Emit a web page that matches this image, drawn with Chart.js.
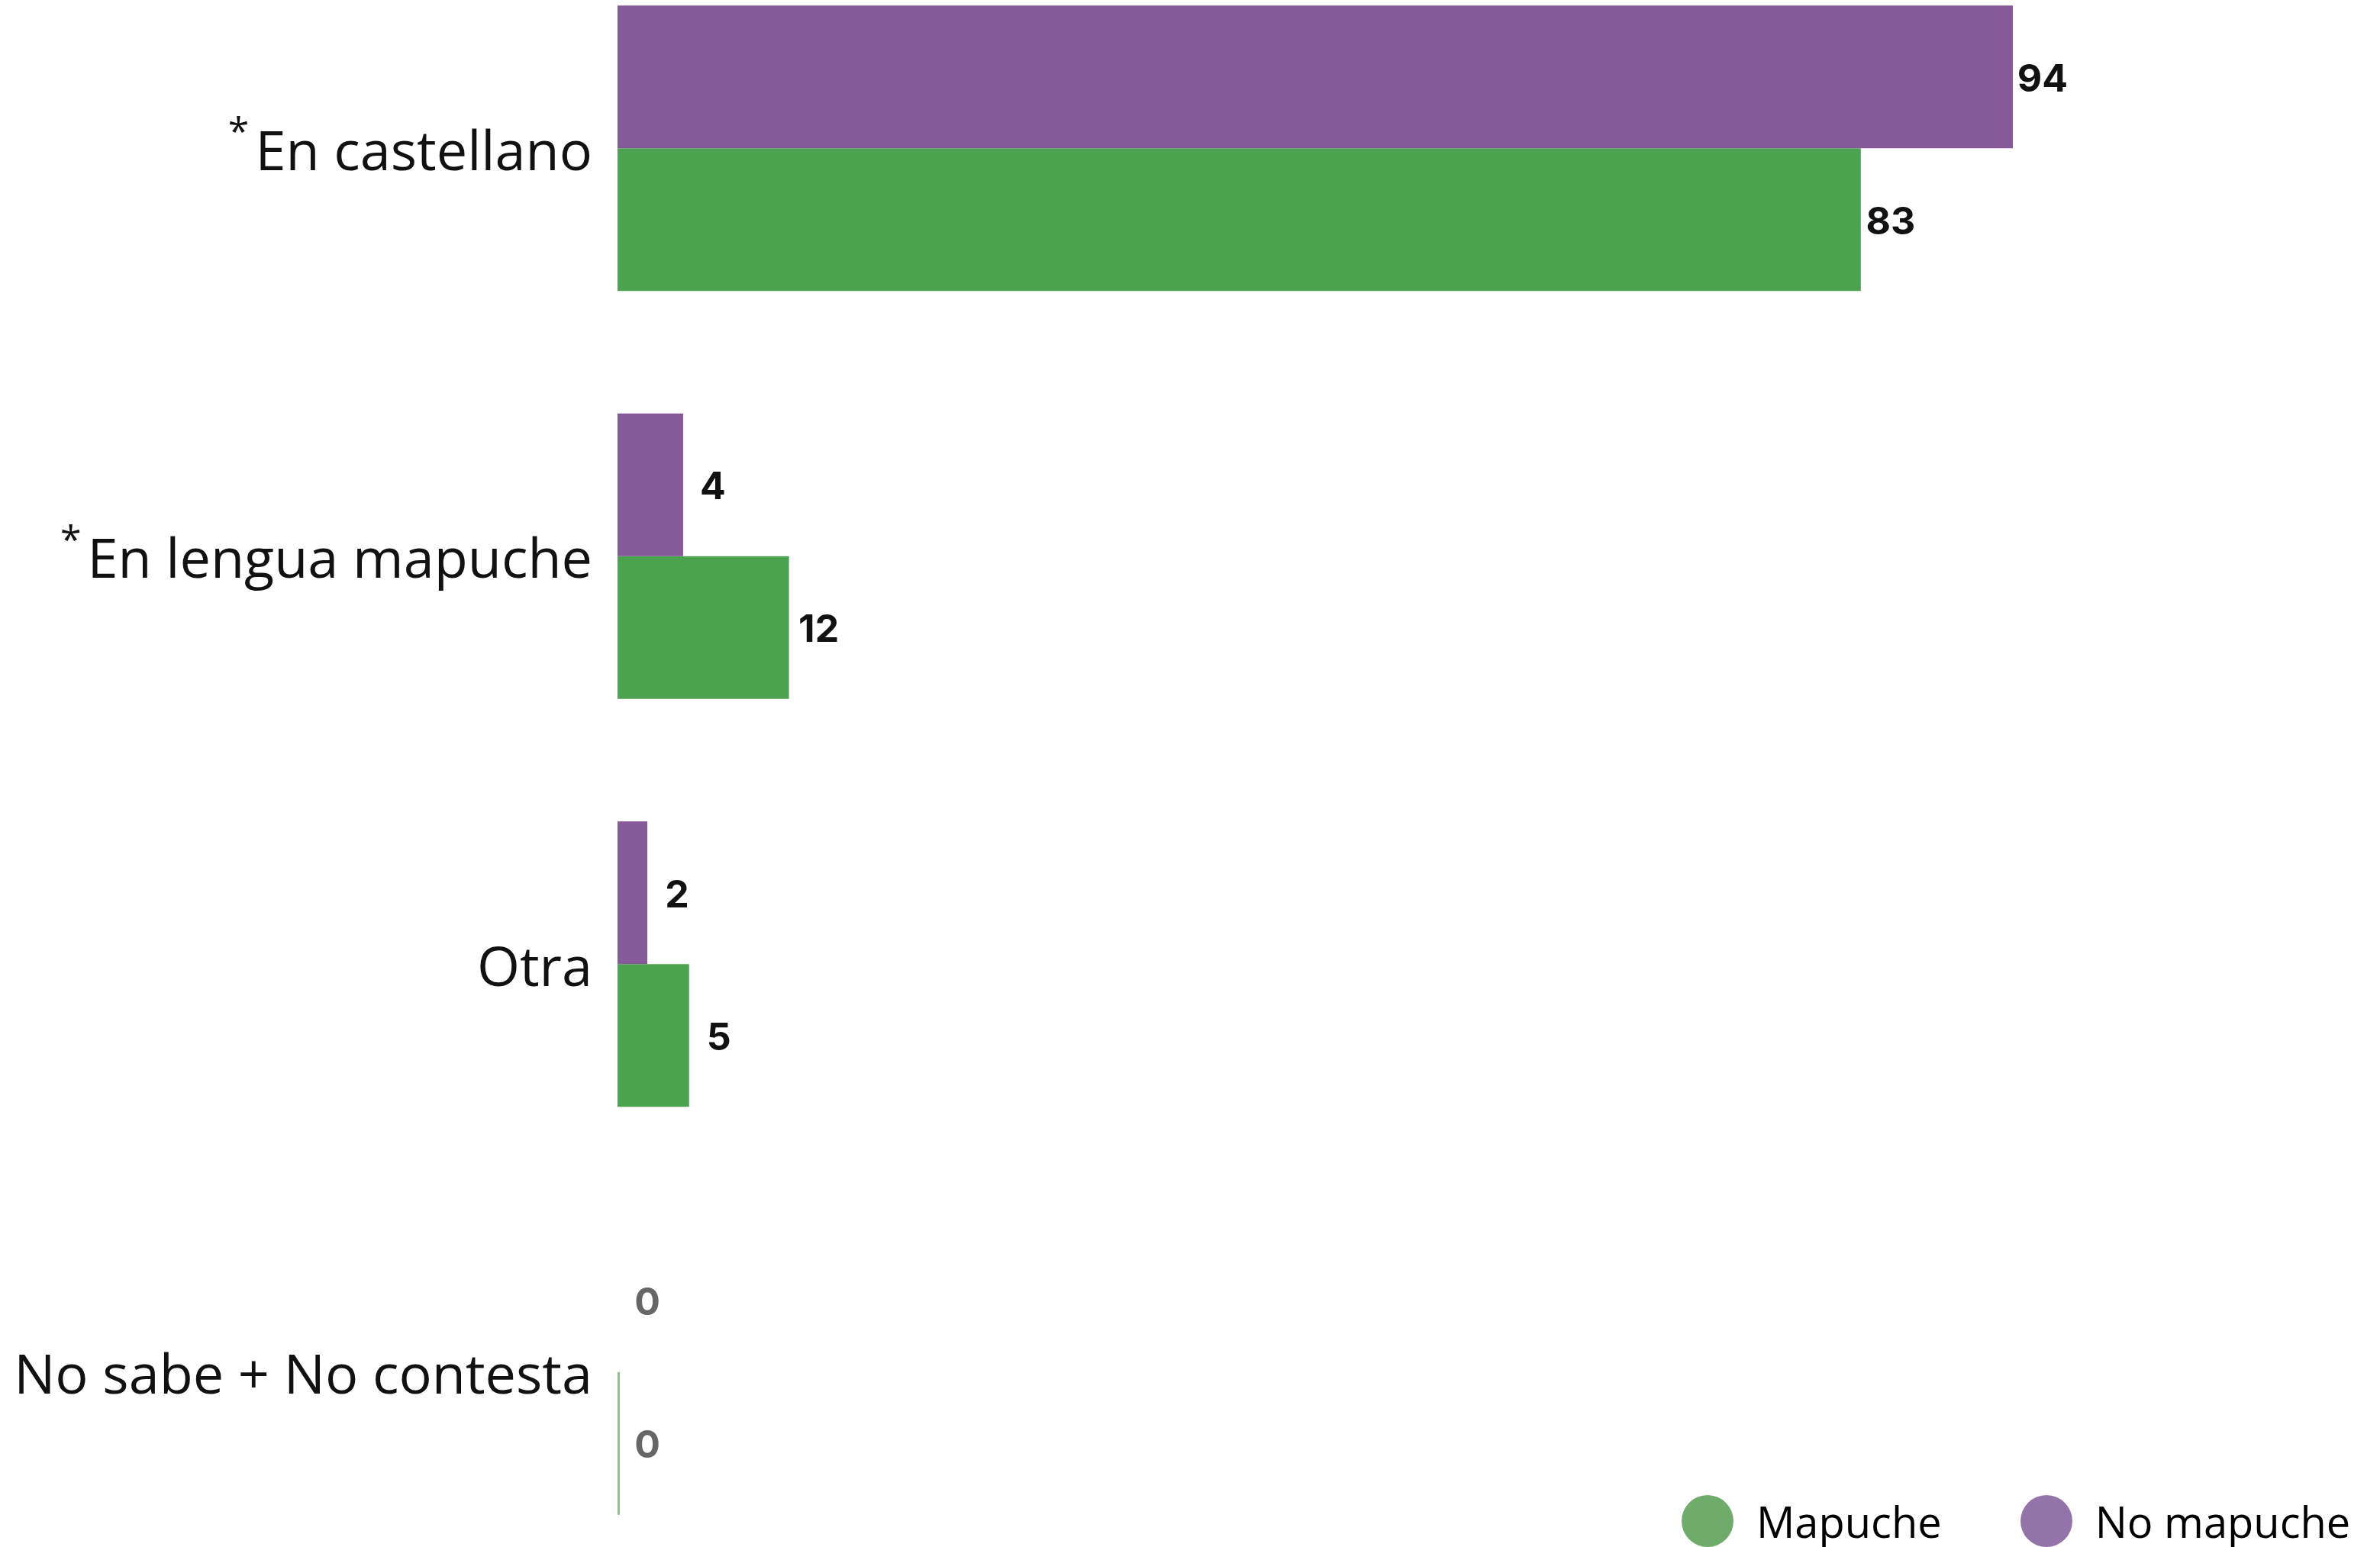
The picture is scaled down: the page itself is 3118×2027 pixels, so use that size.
<!DOCTYPE html>
<html>
<head>
<meta charset="utf-8">
<script src="https://cdn.jsdelivr.net/npm/chart.js@4/dist/chart.umd.min.js"></script>
<style>
  html, body { margin: 0; padding: 0; background: #fff; overflow: hidden; }
  body { width: 3118px; height: 2027px; position: relative; font-family: "Open Sans", sans-serif; }
  #chart { position: absolute; left: 0; top: -73px; }
  #legend { position: absolute; left: 2203px; top: 1959px; height: 68px; display: flex; align-items: center; }
  .item { display: flex; align-items: center; font-size: 56px; color: #000; }
  .dot { width: 68px; height: 68px; border-radius: 50%; margin-right: 30px; }
  .item + .item { margin-left: 103px; }
</style>
</head>
<body>
<canvas id="chart" width="3118" height="2138"></canvas>
<div id="legend"></div>
<script>
// categorias y series (porcentajes)
const categories = ['En castellano', 'En lengua mapuche', 'Otra', 'No sabe + No contesta'];
const starred = [true, true, false, false];
const noMapuche = [93.6, 4.4, 2.0, 0];
const mapuche = [83.4, 11.5, 4.8, 0];

const purple = '#865a98';
const green = '#4ca34f';

// etiquetas de valor al final de cada barra
const valueLabels = {
  id: 'valueLabels',
  afterDatasetsDraw(chart) {
    const ctx = chart.ctx;
    ctx.save();
    ctx.font = '700 50px Inter';
    ctx.textAlign = 'center';
    ctx.textBaseline = 'middle';
    chart.data.datasets.forEach((ds, i) => {
      chart.getDatasetMeta(i).data.forEach((bar, j) => {
        const v = ds.data[j];
        ctx.fillStyle = v === 0 ? '#666' : '#111';
        const x = (v === 0 ? chart.scales.x.getPixelForValue(0) : bar.x) + 39;
        ctx.fillText(Math.round(v), x, bar.y + 4);
      });
    });
    ctx.restore();
  }
};

// asterisco en superindice delante de algunas categorias
const asterisks = {
  id: 'asterisks',
  afterDraw(chart) {
    const ctx = chart.ctx;
    const y = chart.scales.y;
    ctx.save();
    ctx.font = '72px "Open Sans"';
    categories.forEach((c, i) => {
      if (!starred[i]) return;
      const w = ctx.measureText(c).width;
      const left = y.right - 33 - w;
      const cy = y.getPixelForTick(i);
      ctx.save();
      ctx.font = '50px "Open Sans"';
      ctx.fillStyle = '#111';
      ctx.textAlign = 'right';
      ctx.textBaseline = 'alphabetic';
      ctx.fillText('*', left - 8, cy - 4);
      ctx.restore();
    });
    ctx.restore();
  }
};

const chart = new Chart(document.getElementById('chart').getContext('2d'), {
  type: 'bar',
  data: {
    labels: categories,
    datasets: [
      { label: 'No mapuche', data: noMapuche, backgroundColor: purple, borderWidth: 0,
        categoryPercentage: 0.7, barPercentage: 1 },
      { label: 'Mapuche', data: mapuche, borderWidth: 0, minBarLength: 3,
        backgroundColor: c => (c.raw === 0 ? '#86c986' : green),
        categoryPercentage: 0.7, barPercentage: 1 }
    ]
  },
  options: {
    indexAxis: 'y',
    responsive: false,
    animation: false,
    layout: { padding: { left: 0, right: 356, top: 0, bottom: 0 } },
    plugins: { legend: { display: false }, tooltip: { enabled: false } },
    scales: {
      x: { display: false, min: 0, max: 100 },
      y: {
        grid: { display: false, drawTicks: false },
        border: { display: false },
        ticks: { padding: 33, labelOffset: 8, color: '#111', font: { family: 'Open Sans', size: 72 } },
        afterFit(scale) {
          scale.width = 809;
          // sin margen extra arriba/abajo para las etiquetas
          scale.paddingTop = 0;
          scale.paddingBottom = 0;
        }
      }
    }
  },
  plugins: [valueLabels, asterisks]
});

// leyenda en html
const legendItems = [['Mapuche', '#6fab6b'], ['No mapuche', '#9474a8']];
const legend = document.getElementById('legend');
legendItems.forEach(([name, col]) => {
  const item = document.createElement('div');
  item.className = 'item';
  item.innerHTML = '<span class="dot" style="background:' + col + '"></span><span>' + name + '</span>';
  legend.appendChild(item);
});
</script>
</body>
</html>
